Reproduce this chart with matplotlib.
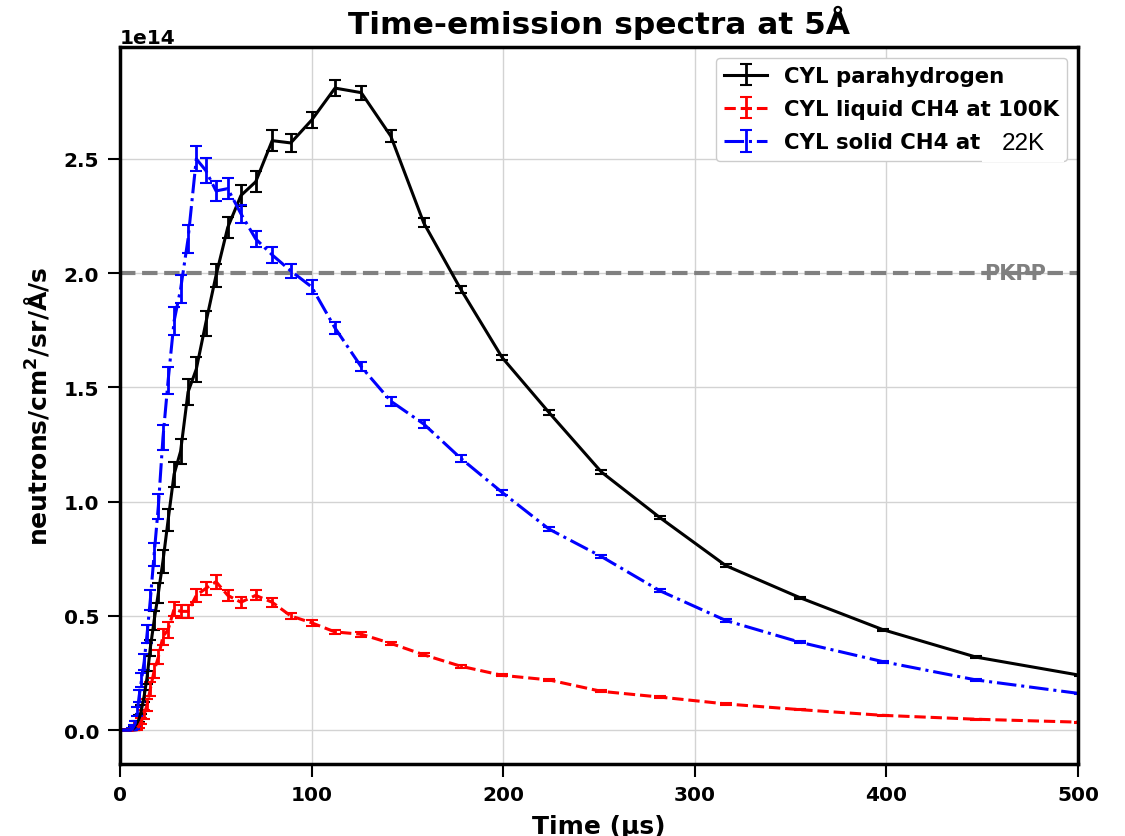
import matplotlib
matplotlib.use("Agg")
import matplotlib.pyplot as plt
from matplotlib.patches import Rectangle

plt.rcParams['font.family'] = ['DejaVu Sans']
plt.rcParams['font.weight'] = 'bold'
plt.rcParams['axes.labelweight'] = 'bold'
plt.rcParams['axes.titleweight'] = 'bold'

# time bins (us), 20 per decade
time_us = [1.0, 1.12, 1.26, 1.41, 1.58, 1.78, 2.0, 2.24, 2.51, 2.82,
           3.16, 3.55, 3.98, 4.47, 5.01, 5.62, 6.31, 7.08, 7.94, 8.91,
           10.0, 11.2, 12.6, 14.1, 15.8, 17.8, 20.0, 22.4, 25.1, 28.2,
           31.6, 35.5, 39.8, 44.7, 50.1, 56.2, 63.1, 70.8, 79.4, 89.1,
           100.0, 112.2, 125.9, 141.3, 158.5, 177.8, 199.5, 223.9, 251.2, 281.8,
           316.2, 354.8, 398.1, 446.7, 501.2]

# values in units of 1e14 neutrons/cm2/sr/A/s
para_h2 = [0, 0, 0, 0, 0, 0, 0, 0, 0, 0,
           0, 0, 0, 0, 0, 0, 0.003, 0.008, 0.015, 0.03,
           0.05, 0.09, 0.15, 0.23, 0.36, 0.48, 0.60, 0.74, 0.92, 1.12,
           1.22, 1.48, 1.58, 1.78, 1.99, 2.20, 2.34, 2.40, 2.58, 2.57,
           2.67, 2.81, 2.79, 2.60, 2.22, 1.93, 1.63, 1.39, 1.13, 0.93,
           0.72, 0.58, 0.44, 0.32, 0.24]
para_h2_err = [0, 0, 0, 0, 0, 0, 0, 0, 0, 0,
               0, 0, 0, 0, 0, 0, 0.003, 0.005, 0.008, 0.01,
               0.015, 0.02, 0.025, 0.03, 0.035, 0.04, 0.045, 0.05, 0.05, 0.055,
               0.055, 0.055, 0.055, 0.055, 0.05, 0.045, 0.045, 0.045, 0.045, 0.04,
               0.035, 0.035, 0.03, 0.025, 0.02, 0.015, 0.012, 0.01, 0.008, 0.007,
               0.006, 0.005, 0.004, 0.003, 0.003]

liquid_ch4 = [0, 0, 0, 0, 0, 0, 0, 0, 0, 0,
              0, 0, 0, 0, 0, 0, 0, 0, 0.005, 0.01,
              0.02, 0.04, 0.07, 0.11, 0.18, 0.26, 0.32, 0.41, 0.44, 0.53,
              0.52, 0.52, 0.59, 0.62, 0.65, 0.59, 0.56, 0.59, 0.56, 0.50,
              0.47, 0.43, 0.42, 0.38, 0.33, 0.28, 0.24, 0.22, 0.17, 0.145,
              0.115, 0.09, 0.065, 0.048, 0.035]
liquid_ch4_err = [0, 0, 0, 0, 0, 0, 0, 0, 0, 0,
                  0, 0, 0, 0, 0, 0, 0, 0, 0.005, 0.008,
                  0.01, 0.015, 0.02, 0.025, 0.03, 0.03, 0.03, 0.035, 0.035, 0.03,
                  0.03, 0.03, 0.03, 0.03, 0.03, 0.025, 0.025, 0.022, 0.02, 0.015,
                  0.012, 0.01, 0.01, 0.008, 0.007, 0.006, 0.005, 0.004, 0.004, 0.003,
                  0.003, 0.002, 0.002, 0.002, 0.002]

solid_ch4 = [0, 0, 0, 0, 0, 0, 0, 0, 0, 0,
             0, 0, 0, 0, 0, 0, 0.005, 0.015, 0.03, 0.08,
             0.15, 0.22, 0.30, 0.42, 0.57, 0.77, 0.98, 1.28, 1.53, 1.79,
             1.93, 2.15, 2.50, 2.45, 2.36, 2.37, 2.26, 2.15, 2.08, 2.01,
             1.94, 1.76, 1.59, 1.44, 1.34, 1.19, 1.04, 0.88, 0.76, 0.61,
             0.48, 0.385, 0.30, 0.22, 0.16]
solid_ch4_err = [0, 0, 0, 0, 0, 0, 0, 0, 0, 0,
                 0, 0, 0, 0, 0, 0, 0.003, 0.008, 0.01, 0.02,
                 0.025, 0.03, 0.035, 0.04, 0.045, 0.05, 0.055, 0.055, 0.06, 0.06,
                 0.06, 0.06, 0.055, 0.055, 0.045, 0.045, 0.04, 0.035, 0.035, 0.03,
                 0.03, 0.025, 0.02, 0.02, 0.018, 0.015, 0.012, 0.01, 0.008, 0.007,
                 0.006, 0.005, 0.004, 0.003, 0.003]

pkpp_level = 2.0e14

def scaled(vals):
    return [v * 1e14 for v in vals]

fig = plt.figure(figsize=(11.25, 8.37), dpi=100)
ax = fig.add_axes([0.1067, 0.086, 0.8516, 0.8567])

ax.grid(True, color='#d3d3d3', linewidth=1, zorder=0)
ax.set_axisbelow(True)

ax.errorbar(time_us, scaled(para_h2), yerr=scaled(para_h2_err), color='black',
            linestyle='-', linewidth=2.2, elinewidth=2, capsize=4, capthick=1.5,
            label='CYL parahydrogen')
ax.errorbar(time_us, scaled(liquid_ch4), yerr=scaled(liquid_ch4_err), color='red',
            linestyle='--', linewidth=2.2, elinewidth=2, capsize=4, capthick=1.5,
            label='CYL liquid CH4 at 100K')
ax.errorbar(time_us, scaled(solid_ch4), yerr=scaled(solid_ch4_err), color='blue',
            linestyle='-.', linewidth=2.2, elinewidth=2, capsize=4, capthick=1.5,
            label='CYL solid CH4 at')

ax.axhline(pkpp_level, color='gray', linestyle='--', linewidth=3, zorder=1)
ax.text(451, pkpp_level, 'PKPP', color='gray', fontsize=15, fontweight='bold',
        va='center', ha='left', zorder=2)

ax.set_xlim(0, 500)
ax.set_ylim(-0.148e14, 2.99e14)

ax.set_title('Time-emission spectra at 5Å', fontsize=22.5, pad=10)
ax.set_xlabel('Time (µs)', fontsize=18, labelpad=7)
ax.set_ylabel('neutrons/cm$^2$/sr/Å/s', fontsize=18, labelpad=9)

ax.tick_params(axis='both', labelsize=14.5, width=1.5, length=9, pad=6)
ax.yaxis.get_offset_text().set_fontsize(14.5)
ax.yaxis.get_offset_text().set_fontweight('bold')
for s in ax.spines.values():
    s.set_linewidth(2.5)

ax.legend(loc='upper right', fontsize=15.3, framealpha=1, labelspacing=0.62)

# patched-over legend entry as in the original figure
fig.patches.append(Rectangle((0.873, 0.8053), 0.073, 0.048, transform=fig.transFigure,
                             facecolor='white', edgecolor='none', zorder=10))
fig.text(0.8904, 0.8208, '22K', family='Liberation Sans', fontweight='normal',
         fontsize=17.5, va='baseline', ha='left', zorder=11)

fig.savefig('out.png', dpi=100)
